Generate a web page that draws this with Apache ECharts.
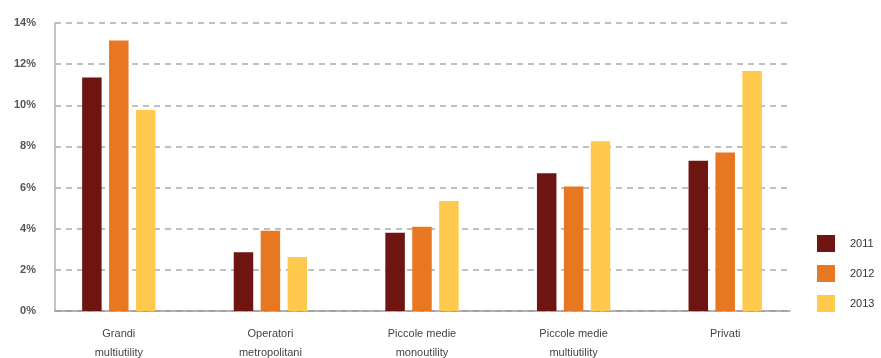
<!DOCTYPE html>
<html><head><meta charset="utf-8">
<script src="https://cdn.jsdelivr.net/npm/echarts@6/dist/echarts.min.js"></script>
<style>html,body{margin:0;padding:0;background:#fff}#c{width:881px;height:358px}</style>
</head><body><div id="c"></div>
<script>
const categories = ["Grandi\nmultiutility","Operatori\nmetropolitani","Piccole medie\nmonoutility","Piccole medie\nmultiutility","Privati"];
const years = ["2011","2012","2013"];
const v2011 = [11.35, 2.85, 3.8, 6.7, 7.3];
const v2012 = [13.15, 3.9, 4.1, 6.05, 7.7];
const v2013 = [9.77, 2.62, 5.35, 8.25, 11.67];
const yTicks = [0,2,4,6,8,10,12,14];
const colors = ["#6E1411","#E87722","#FFC94E"];

const chart = echarts.init(document.getElementById('c'));
const font = "Liberation Sans";
chart.setOption({
  animation:false,
  color: colors,
  grid:[
    {left:55, right:91, top:23, bottom:47, outerBoundsMode:'none', containLabel:false},
    {left:43, width:758, top:23, bottom:47, outerBoundsMode:'none', containLabel:false}
  ],
  legend:{
    orient:'vertical', left:812, top:230, itemWidth:18, itemHeight:17, itemGap:13,
    icon:'rect', data:years,
    textStyle:{fontFamily:font, fontSize:11, color:'#333', padding:[0,0,0,10]}
  },
  xAxis:[
    {gridIndex:0, type:'category', data:categories, axisLabel:{show:false}, axisTick:{show:false},
     axisLine:{lineStyle:{color:'#9a9a9a', width:1.5}}},
    {gridIndex:1, type:'category', data:categories, axisTick:{show:false}, axisLine:{show:false},
     axisLabel:{fontFamily:font, fontSize:11, color:'#444', lineHeight:19, margin:13}}
  ],
  yAxis:[
    {gridIndex:0, type:'value', min:0, max:14, interval:2,
     axisLine:{show:true, lineStyle:{color:'#b0b0b0', width:1.5}},
     axisTick:{show:false},
     axisLabel:{fontFamily:font, fontSize:11, fontWeight:'bold', color:'#555', margin:19,
       formatter:function(v){return yTicks.indexOf(v)>=0 ? v+'%' : '';}},
     splitLine:{lineStyle:{color:'#aaaaaa', type:[6,5], width:1.5}}},
    {gridIndex:1, type:'value', min:0, max:14, interval:2, show:false, splitLine:{show:false}}
  ],
  series:[
    {name:years[0], type:'bar', xAxisIndex:1, yAxisIndex:1, data:v2011, barWidth:19.5, barGap:'38%'},
    {name:years[1], type:'bar', xAxisIndex:1, yAxisIndex:1, data:v2012, barWidth:19.5, barGap:'38%'},
    {name:years[2], type:'bar', xAxisIndex:1, yAxisIndex:1, data:v2013, barWidth:19.5, barGap:'38%'}
  ]
});
</script></body></html>
